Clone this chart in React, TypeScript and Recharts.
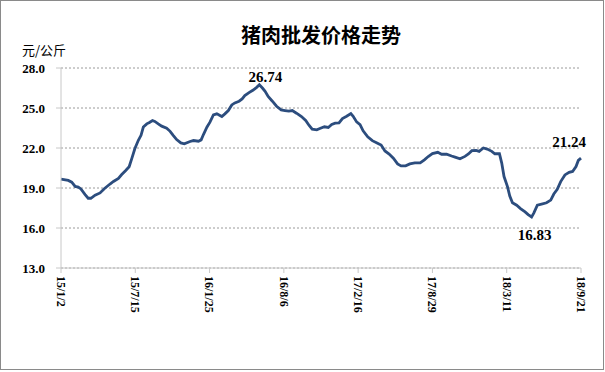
import { LineChart, Line, XAxis, YAxis, CartesianGrid, LabelList } from 'recharts';

// days since 2015-01-02
const days = [
  0, 19, 28, 37, 45, 52, 63, 71, 78, 89, 102, 113, 128, 137, 150, 158, 169, 178, 185, 193,
  202, 209, 215, 224, 231, 239, 245, 254, 263, 276, 285, 293, 302, 313, 322, 337, 346, 359, 366, 372,
  381, 389, 398, 407, 420, 428, 437, 446, 454, 465, 473, 480, 491, 502, 511, 518, 526, 533, 541, 552,
  563, 575, 585, 595, 604, 615, 628, 639, 648, 656, 668, 676, 688, 698, 707, 716, 726, 735, 746, 757,
  763, 772, 781, 789, 801, 813, 824, 836, 846, 857, 868, 879, 888, 900, 911, 924, 938, 949, 959, 970,
  984, 994, 1007, 1020, 1029, 1042, 1055, 1064, 1073, 1084, 1092, 1103, 1113, 1125, 1133, 1145, 1151, 1157, 1166, 1172,
  1179, 1190, 1200, 1212, 1220, 1229, 1235, 1244, 1255, 1268, 1279, 1287, 1296, 1305, 1316, 1327, 1336, 1345, 1351, 1358,
];

// 元/公斤
const prices = [
  19.66, 19.57, 19.44, 19.12, 19.07, 18.93, 18.5, 18.23, 18.23, 18.46, 18.63, 18.95, 19.3, 19.49, 19.72, 19.99, 20.31, 20.6, 21.22, 21.96,
  22.58, 22.95, 23.57, 23.81, 23.91, 24.06, 23.99, 23.81, 23.64, 23.49, 23.25, 22.95, 22.63, 22.38, 22.31, 22.49, 22.56, 22.51, 22.61, 23.01,
  23.56, 23.94, 24.48, 24.56, 24.36, 24.56, 24.81, 25.23, 25.38, 25.51, 25.68, 25.93, 26.15, 26.35, 26.55, 26.74, 26.5, 26.25, 25.86, 25.51,
  25.13, 24.86, 24.81, 24.76, 24.81, 24.61, 24.36, 24.06, 23.69, 23.41, 23.36, 23.46, 23.59, 23.54, 23.76, 23.86, 23.88, 24.21, 24.38, 24.58,
  24.38, 23.96, 23.76, 23.29, 22.84, 22.55, 22.4, 22.22, 21.78, 21.55, 21.23, 20.81, 20.66, 20.66, 20.81, 20.88, 20.88, 21.11, 21.36, 21.58,
  21.68, 21.53, 21.53, 21.4, 21.32, 21.19, 21.37, 21.55, 21.8, 21.82, 21.75, 22.0, 21.92, 21.75, 21.57, 21.57, 20.87, 19.86, 19.1, 18.4,
  17.89, 17.71, 17.46, 17.21, 17.01, 16.83, 17.13, 17.71, 17.79, 17.89, 18.09, 18.55, 18.9, 19.48, 19.98, 20.18, 20.24, 20.61, 21.07, 21.24,
];

const tickDays = [0, 194, 388, 582, 776, 970, 1164, 1358];
const tickLabels = ['15/1/2', '15/7/15', '16/1/25', '16/8/6', '17/2/16', '17/8/29', '18/3/11', '18/9/21'];
const yTicks = [13, 16, 19, 22, 25, 28];
const callouts = [518, 1229, 1358]; // peak, low, latest

const calloutOffsets = [
  { dx: 6, dy: -3 },
  { dx: 3, dy: 23 },
  { dx: -12, dy: -11 },
];

const serif = '"Liberation Serif", "Times New Roman", serif';
const cjk = '"Noto Sans CJK SC", "Noto Sans", sans-serif';
const axisGray = '#c8c8c8';

const DateTick = (props: any) => {
  const { x, y, payload } = props;
  const i = tickDays.indexOf(payload.value);
  return (
    <text
      transform={`translate(${x},${y + 1}) rotate(90)`}
      textAnchor="start"
      dy="0.35em"
      fontFamily={serif}
      fontWeight="bold"
      fontSize={12}
      fill="#000"
    >
      {tickLabels[i]}
    </text>
  );
};

const renderCallout = (props: any) => {
  const { x, y, index, value } = props;
  const k = callouts.indexOf(days[index]);
  if (k < 0) return null;
  const off = calloutOffsets[k];
  return (
    <text
      x={x + off.dx}
      y={y + off.dy}
      textAnchor="middle"
      fontFamily={serif}
      fontWeight="bold"
      fontSize={15}
      fill="#000"
    >
      {Number(value).toFixed(2)}
    </text>
  );
};

export default function App() {
  const data = days.map((d, i) => ({ d, price: prices[i] }));

  return (
    <div style={{ position: 'relative', width: 605, height: 372, background: '#fff' }}>
      <style>{'body{margin:0}'}</style>
      <LineChart width={605} height={372} data={data} margin={{ top: 68, right: 24, bottom: 0, left: 0 }}>
        <CartesianGrid vertical={false} stroke="#9a9a9a" strokeDasharray="2 2" />
        <XAxis
          dataKey="d"
          type="number"
          domain={[0, 1358]}
          ticks={tickDays}
          interval={0}
          height={104}
          tick={<DateTick />}
          tickSize={5}
          tickLine={{ stroke: axisGray }}
          axisLine={{ stroke: axisGray }}
        />
        <YAxis
          domain={[13, 28]}
          ticks={yTicks}
          interval={0}
          width={61}
          tickSize={5}
          tickMargin={11}
          tickFormatter={(v: number) => v.toFixed(1)}
          tick={{ fontFamily: serif, fontWeight: 'bold', fontSize: 13, fill: '#000' }}
          tickLine={{ stroke: axisGray }}
          axisLine={{ stroke: axisGray }}
        />
        <Line
          type="linear"
          dataKey="price"
          stroke="#2c4d7e"
          strokeWidth={2.8}
          dot={false}
          isAnimationActive={false}
        >
          <LabelList dataKey="price" content={renderCallout} />
        </Line>
      </LineChart>
      <svg
        width={605}
        height={372}
        style={{ position: 'absolute', left: 0, top: 0, pointerEvents: 'none' }}
      >
        <rect x={0.5} y={0.5} width={603} height={369} fill="none" stroke="#8a8a8a" />
        <text x={321} y={43} textAnchor="middle" fontFamily={cjk} fontWeight="bold" fontSize={20} fill="#000">
          猪肉批发价格走势
        </text>
        <text x={22} y={55} fontFamily={cjk} fontSize={13} fill="#000">
          元/公斤
        </text>
      </svg>
    </div>
  );
}
